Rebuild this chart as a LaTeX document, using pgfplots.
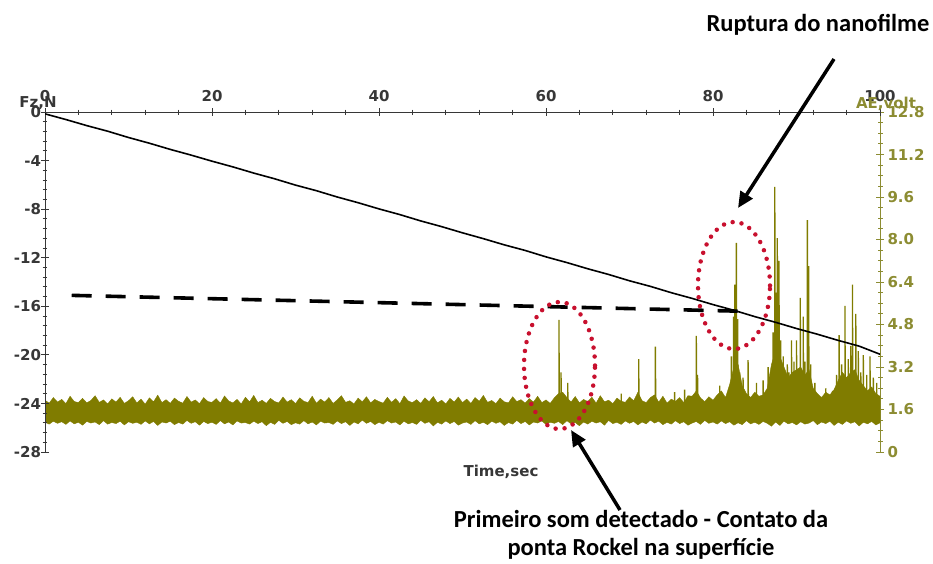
\documentclass[border=0pt]{standalone}
\usepackage{pgfplots}
\pgfplotsset{compat=1.18}
\usepackage{fontspec}
\setmainfont{DejaVu Sans}
\newfontfamily\calib{Carlito}
\usetikzlibrary{arrows.meta}
\definecolor{olivd}{RGB}{128,124,0}
\definecolor{olivt}{RGB}{140,140,50}
\definecolor{dotred}{RGB}{200,16,46}
\definecolor{axgray}{RGB}{55,55,55}
\begin{document}
\begin{tikzpicture}[x=1pt,y=1pt]
\useasboundingbox (0,0) rectangle (933,-563);
% ---------- AE (volt) axis ----------
\begin{axis}[
  at={(45pt,-452pt)}, anchor=south west,
  scale only axis, width=835pt, height=340pt,
  xmin=0, xmax=100, ymin=0, ymax=12.8,
  axis x line=none, axis y line*=right,
  axis line style={olivt, line width=1pt, -},
  ytick={0,1.6,3.2,4.8,6.4,8.0,9.6,11.2,12.8},
  yticklabels={0,1.6,3.2,4.8,6.4,8.0,9.6,11.2,12.8},
  minor y tick num=3,
  tick align=center, major tick length=8pt, minor tick length=5pt,
  tick style={olivt, line width=0.8pt},
  yticklabel style={font=\bfseries\fontsize{15}{15}\selectfont, text=olivt, anchor=west},
  /pgf/number format/assume math mode=true,
]
% noise band (upper envelope then lower envelope)
\addplot[fill=olivd, draw=olivd, line width=0.4pt] coordinates {
(0,1.95)(0.5,1.84)(1,2.05)(1.5,1.88)(2,1.98)(2.5,1.82)(3,2.10)(3.5,1.90)(4,1.86)(4.5,2.02)(5,1.85)(5.5,1.94)(6,2.12)(6.5,1.87)(7,1.96)(7.5,1.81)(8,2.00)(8.5,1.88)(9,2.06)(9.5,1.83)
(10,1.93)(10.5,2.08)(11,1.85)(11.5,1.99)(12,1.80)(12.5,2.04)(13,1.89)(13.5,2.14)(14,1.86)(14.5,1.97)(15,1.83)(15.5,2.03)(16,1.91)(16.5,1.84)(17,2.09)(17.5,1.88)(18,1.96)(18.5,1.82)(19,2.05)(19.5,1.90)
(20,1.87)(20.5,2.01)(21,1.84)(21.5,2.11)(22,1.92)(22.5,1.85)(23,1.98)(23.5,1.81)(24,2.06)(24.5,1.89)(25,2.13)(25.5,1.86)(26,1.95)(26.5,1.83)(27,2.02)(27.5,1.90)(28,1.85)(28.5,2.07)(29,1.88)(29.5,1.97)
(30,1.82)(30.5,2.04)(31,1.91)(31.5,1.86)(32,2.10)(32.5,1.84)(33,1.99)(33.5,1.88)(34,2.05)(34.5,1.83)(35,1.96)(35.5,2.12)(36,1.87)(36.5,1.93)(37,1.81)(37.5,2.03)(38,1.89)(38.5,2.08)(39,1.85)(39.5,1.98)
(40,1.90)(40.5,1.84)(41,2.06)(41.5,1.87)(42,2.01)(42.5,1.82)(43,2.11)(43.5,1.92)(44,1.86)(44.5,1.97)(45,1.83)(45.5,2.04)(46,1.89)(46.5,2.09)(47,1.85)(47.5,1.95)(48,1.81)(48.5,2.02)(49,1.88)(49.5,2.07)
(50,1.86)(50.5,1.99)(51,1.83)(51.5,2.05)(52,1.91)(52.5,2.13)(53,1.87)(53.5,1.94)(54,1.82)(54.5,2.03)(55,1.89)(55.5,1.85)(56,2.08)(56.5,1.90)(57,1.97)(57.5,1.84)(58,2.01)(58.5,1.88)(59,2.10)(59.5,1.86)
(60,1.96)(60.5,1.83)(61,2.04)(61.5,2.20)(62,2.25)(62.5,2.05)(63,1.88)(63.5,2.09)(64,1.85)(64.5,1.98)(65,1.90)(65.5,2.06)(66,1.84)(66.5,2.12)(67,1.89)(67.5,1.95)(68,1.82)(68.5,2.03)(69,1.91)(69.5,1.87)
(70,2.07)(70.5,1.93)(71,2.25)(71.5,1.93)(72,1.86)(72.5,2.05)(73,2.15)(73.5,1.88)(74,2.10)(74.5,1.84)(75,1.99)(75.5,1.91)(76,2.05)(76.5,1.86)(77,2.12)(77.5,2.10)(78,2.30)(78.5,2.04)(79,1.89)(79.5,2.08)
(80,1.95)(80.5,2.15)(81,2.30)(81.5,2.05)(82,2.55)(82.5,3.20)(83,3.30)(83.5,2.50)(84,2.20)(84.5,2.05)(85,2.25)(85.5,2.10)(86,2.15)(86.5,2.40)(87,3.30)(87.5,3.80)(88,3.60)(88.5,3.20)(89,2.80)(89.5,3.00)
(90,3.10)(90.5,3.20)(91,2.90)(91.5,3.10)(92,2.40)(92.5,2.20)(93,2.05)(93.5,2.25)(94,2.15)(94.5,2.35)(95,2.70)(95.5,3.00)(96,2.80)(96.5,3.00)(97,3.10)(97.5,2.70)(98,2.50)(98.5,2.30)(99,2.45)(99.5,2.20)(100,2.10)
(100,1.10)(99.5,1.02)(99,1.15)(98.5,1.06)(98,1.12)(97.5,0.98)(97,1.14)(96.5,1.08)(96,1.17)(95.5,1.04)(95,1.12)(94.5,1.00)(94,1.16)(93.5,1.07)(93,1.13)(92.5,1.03)(92,1.18)(91.5,1.09)(91,1.05)(90.5,1.14)
(90,1.02)(89.5,1.11)(89,1.06)(88.5,1.16)(88,1.00)(87.5,1.13)(87,0.97)(86.5,1.08)(86,1.15)(85.5,1.04)(85,1.12)(84.5,1.06)(84,1.18)(83.5,1.03)(83,1.10)(82.5,1.01)(82,1.14)(81.5,1.07)(81,1.17)(80.5,1.05)
(80,1.13)(79.5,1.08)(79,1.19)(78.5,1.04)(78,1.15)(77.5,1.09)(77,1.01)(76.5,1.14)(76,1.07)(75.5,1.18)(75,1.05)(74.5,1.12)(74,1.03)(73.5,1.16)(73,1.09)(72.5,1.20)(72,1.06)(71.5,1.13)(71,1.02)(70.5,1.15)
(70,1.08)(69.5,1.17)(69,1.04)(68.5,1.12)(68,1.07)(67.5,1.19)(67,1.01)(66.5,1.14)(66,1.09)(65.5,1.16)(65,1.05)(64.5,1.13)(64,0.99)(63.5,1.11)(63,1.06)(62.5,1.18)(62,1.03)(61.5,1.15)(61,1.08)(60.5,1.12)
(60,1.04)(59.5,1.17)(59,1.09)(58.5,1.13)(58,1.02)(57.5,1.15)(57,1.07)(56.5,1.19)(56,1.05)(55.5,1.11)(55,1.00)(54.5,1.14)(54,1.08)(53.5,1.16)(53,1.03)(52.5,1.12)(52,1.06)(51.5,1.18)(51,1.04)(50.5,1.13)
(50,1.09)(49.5,1.01)(49,1.15)(48.5,1.07)(48,1.17)(47.5,1.05)(47,1.12)(46.5,0.98)(46,1.14)(45.5,1.08)(45,1.19)(44.5,1.04)(44,1.11)(43.5,1.06)(43,1.16)(42.5,1.02)(42,1.13)(41.5,1.09)(41,1.18)(40.5,1.05)
(40,1.12)(39.5,1.03)(39,1.15)(38.5,1.08)(38,1.20)(37.5,1.06)(37,1.13)(36.5,1.00)(36,1.14)(35.5,1.07)(35,1.17)(34.5,1.04)(34,1.11)(33.5,1.09)(33,1.16)(32.5,1.02)(32,1.13)(31.5,1.06)(31,1.18)(30.5,1.05)
(30,1.10)(29.5,1.03)(29,1.15)(28.5,1.08)(28,1.19)(27.5,1.04)(27,1.12)(26.5,0.99)(26,1.14)(25.5,1.07)(25,1.16)(24.5,1.05)(24,1.11)(23.5,1.09)(23,1.17)(22.5,1.02)(22,1.13)(21.5,1.06)(21,1.18)(20.5,1.04)
(20,1.12)(19.5,1.07)(19,1.15)(18.5,1.01)(18,1.14)(17.5,1.08)(17,1.19)(16.5,1.05)(16,1.11)(15.5,1.03)(15,1.16)(14.5,1.09)(14,1.13)(13.5,1.00)(13,1.15)(12.5,1.06)(12,1.17)(11.5,1.04)(11,1.12)(10.5,1.08)
(10,1.14)(9.5,1.02)(9,1.16)(8.5,1.07)(8,1.11)(7.5,1.05)(7,1.18)(6.5,1.03)(6,1.13)(5.5,1.09)(5,1.15)(4.5,1.01)(4,1.12)(3.5,1.06)(3,1.17)(2.5,1.04)(2,1.14)(1.5,1.08)(1,1.16)(0.5,1.05)(0,1.12)
} --cycle;
% AE spikes
\addplot[olivd, line width=1.3pt] coordinates {
(55,1.5)(61.55,1.5)(61.55,4.97)(61.6,1.5)(61.8,1.5)(61.8,3.0)(61.85,1.5)
(62.6,1.5)(62.6,2.6)(62.65,1.5)
(69.0,1.5)(69.0,2.2)(69.05,1.5)
(71.1,1.5)(71.1,3.5)(71.15,1.5)
(73.1,1.5)(73.1,3.97)(73.15,1.5)
(75.4,1.5)(75.4,2.25)(75.45,1.5)
(76.6,1.5)(76.6,2.35)(76.65,1.5)
(78.0,1.5)(78.0,4.37)(78.05,1.5)(78.15,1.5)(78.15,2.9)(78.2,1.5)
(80.8,1.5)(80.8,2.5)(80.85,1.5)
(82.2,1.5)(82.2,3.6)(82.25,1.5)(82.45,1.5)(82.45,5.1)(82.5,1.5)(82.6,1.5)(82.6,6.3)(82.65,1.5)(82.8,1.5)(82.8,7.87)(82.85,1.5)(82.95,1.5)(82.95,5.0)(83.0,1.5)(83.2,1.5)(83.2,3.0)(83.25,1.5)
(83.6,1.5)(83.6,2.8)(83.65,1.5)
(84.2,1.5)(84.2,3.46)(84.25,1.5)
(85.2,1.5)(85.2,2.6)(85.25,1.5)
(86.0,1.5)(86.0,2.7)(86.05,1.5)
(86.6,1.5)(86.6,3.2)(86.65,1.5)
(87.2,1.5)(87.2,4.5)(87.25,1.5)(87.4,1.5)(87.4,9.98)(87.45,1.5)(87.55,1.5)(87.55,6.0)(87.6,1.5)(87.7,1.5)(87.7,8.05)(87.75,1.5)(87.9,1.5)(87.9,7.2)(87.95,1.5)(88.1,1.5)(88.1,4.2)(88.15,1.5)
(88.4,1.5)(88.4,3.6)(88.45,1.5)
(88.9,1.5)(88.9,3.3)(88.95,1.5)
(89.1,1.5)(89.1,3.0)(89.15,1.5)
(89.4,1.5)(89.4,4.2)(89.45,1.5)
(89.7,1.5)(89.7,3.4)(89.75,1.5)
(90.0,1.5)(90.0,4.2)(90.05,1.5)
(90.2,1.5)(90.2,3.1)(90.25,1.5)
(90.45,1.5)(90.45,5.8)(90.5,1.5)
(90.8,1.5)(90.8,5.1)(90.85,1.5)
(91.0,1.5)(91.0,3.4)(91.05,1.5)
(91.3,1.5)(91.3,8.73)(91.35,1.5)(91.45,1.5)(91.45,7.0)(91.5,1.5)
(91.7,1.5)(91.7,3.3)(91.75,1.5)
(92.2,1.5)(92.2,2.6)(92.25,1.5)
(93.5,1.5)(93.5,2.4)(93.55,1.5)
(94.3,1.5)(94.3,2.3)(94.35,1.5)
(94.8,1.5)(94.8,2.9)(94.85,1.5)
(95.1,1.5)(95.1,4.4)(95.15,1.5)
(95.4,1.5)(95.4,3.3)(95.45,1.5)
(95.8,1.5)(95.8,5.5)(95.85,1.5)
(96.2,1.5)(96.2,3.5)(96.25,1.5)
(96.5,1.5)(96.5,4.0)(96.55,1.5)
(96.7,1.5)(96.7,6.3)(96.75,1.5)
(97.1,1.5)(97.1,5.2)(97.15,1.5)
(97.4,1.5)(97.4,3.8)(97.45,1.5)
(97.7,1.5)(97.7,3.0)(97.75,1.5)
(98.0,1.5)(98.0,3.65)(98.05,1.5)
(98.4,1.5)(98.4,2.9)(98.45,1.5)
(98.8,1.5)(98.8,3.6)(98.85,1.5)
(99.2,1.5)(99.2,2.8)(99.25,1.5)
(99.6,1.5)(99.6,2.6)(99.65,1.5)(100,1.5)
};
\end{axis}
% ---------- Fz (N) axis ----------
\begin{axis}[
  at={(45pt,-452pt)}, anchor=south west,
  scale only axis, width=835pt, height=340pt,
  xmin=0, xmax=100, ymin=-28, ymax=0,
  axis x line*=top, axis y line*=left,
  axis line style={axgray, line width=1pt, -},
  xtick={0,20,40,60,80,100}, minor x tick num=4,
  ytick={0,-4,-8,-12,-16,-20,-24,-28}, minor y tick num=4,
  tick align=center, major tick length=8pt, minor tick length=5pt,
  tick style={axgray, line width=0.8pt},
  ticklabel style={font=\bfseries\fontsize{15}{15}\selectfont, text=axgray},
  xticklabel style={yshift=2.5pt},
  yticklabel style={xshift=3.5pt},
  /pgf/number format/assume math mode=true,
]
\addplot[black, line width=1.6pt] coordinates {
(0,-0.15)(2.5,-0.62)(5,-1.12)(7.5,-1.58)(10,-2.10)(12.5,-2.57)(15,-3.08)(17.5,-3.55)(20,-4.05)(22.5,-4.52)(25,-5.03)(27.5,-5.50)(30,-6.02)(32.5,-6.48)(35,-7.00)(37.5,-7.47)(40,-7.98)(42.5,-8.45)(45,-8.97)(47.5,-9.44)(50,-9.95)(52.5,-10.43)(55,-10.94)(57.5,-11.40)(60,-11.93)(62.5,-12.40)(65,-12.91)(67.5,-13.38)(70,-13.90)(72.5,-14.36)(75,-14.88)(77.5,-15.35)(80,-15.86)(82.5,-16.33)(85,-16.85)(87.5,-17.32)(90,-17.83)(92.5,-18.30)(95,-18.81)(97.5,-19.28)(100,-19.95)
};
\addplot[black, line width=3.6pt, dash pattern=on 20pt off 14pt] coordinates {(3.2,-15.1)(83,-16.4)};
\end{axis}
% ---------- labels and annotations ----------
\node[font=\bfseries\fontsize{15}{15}\selectfont, text=axgray] at (38,-103) {Fz,N};
\node[font=\bfseries\fontsize{15}{15}\selectfont, text=olivt] at (886,-104) {AE,volt};
\node[font=\bfseries\fontsize{15}{15}\selectfont, text=axgray] at (501,-472) {Time,sec};
\draw[dotred, line width=4.5pt, line cap=round, dash pattern=on 0pt off 9pt] (559.5,-365.5) ellipse [x radius=35.5, y radius=63.5];
\draw[dotred, line width=4.5pt, line cap=round, dash pattern=on 0pt off 9pt] (734,-285.5) ellipse [x radius=36, y radius=63.5];
\node[font=\calib\bfseries\fontsize{24.5}{28}\selectfont] at (818,-25) {Ruptura do nanofilme};
\draw[line width=3.5pt, -{Triangle[length=16pt,width=14pt]}] (834,-59) -- (738,-208);
\draw[line width=3.5pt, -{Triangle[length=16pt,width=14pt]}] (620,-510) -- (571,-430);
\node[font=\calib\bfseries\fontsize{24.5}{28}\selectfont, align=center] at (641,-535) {Primeiro som detectado - Contato da\\ponta Rockel na superfície};
\end{tikzpicture}
\end{document}
